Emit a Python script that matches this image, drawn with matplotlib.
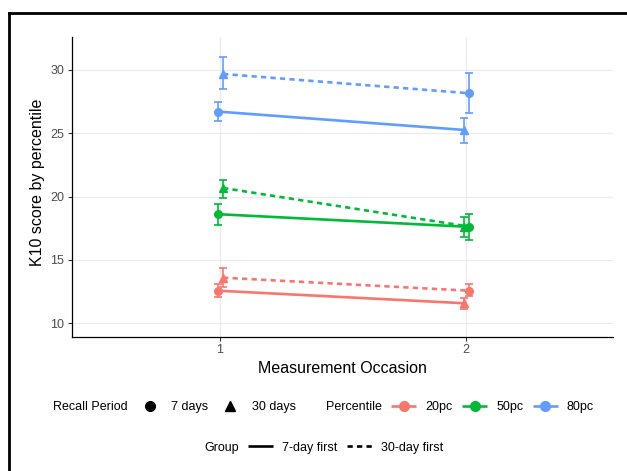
import matplotlib
matplotlib.use("Agg")
import matplotlib.pyplot as plt
from matplotlib.lines import Line2D
import numpy as np

plt.rcParams['font.family'] = ['Liberation Sans', 'DejaVu Sans']

# ---------------- data ----------------
occasions = [1, 2]
percentiles = ["20pc", "50pc", "80pc"]
colors = ["#F8766D", "#00BA38", "#619CFF"]
groups = ["7-day first", "30-day first"]
recall_labels = ["7 days", "30 days"]

# mean values per percentile, [occasion1, occasion2]
solid_mean = {"20pc": [12.57, 11.58], "50pc": [18.61, 17.63], "80pc": [26.71, 25.26]}
solid_lo   = {"20pc": [12.05, 11.13], "50pc": [17.76, 16.79], "80pc": [25.97, 24.26]}
solid_hi   = {"20pc": [13.08, 11.97], "50pc": [19.42, 18.42], "80pc": [27.47, 26.19]}
dashed_mean = {"20pc": [13.60, 12.57], "50pc": [20.68, 17.63], "80pc": [29.68, 28.16]}
dashed_lo   = {"20pc": [12.86, 12.15], "50pc": [19.89, 16.58], "80pc": [28.48, 26.58]}
dashed_hi   = {"20pc": [14.36, 13.08], "50pc": [21.31, 18.61], "80pc": [31.00, 29.79]}

# recall period markers: 7-day first -> circle then triangle; 30-day first -> triangle then circle
solid_markers = ["o", "^"]
dashed_markers = ["^", "o"]

yticks = [10, 15, 20, 25, 30]

# ---------------- figure ----------------
W, H = 627, 471
fig = plt.figure(figsize=(W / 100, H / 100), dpi=100)
ax = fig.add_axes([72 / W, 1 - 336.7 / H, (613.3 - 72) / W, (336.7 - 37) / H])

ax.set_xlim(0.4, 2.6)
ax.set_ylim(8.94, 32.6)

LW = 1.9
dash = (2.0, 1.6)
off_solid = -0.005
off_dashed = 0.014

for p, c in zip(percentiles, colors):
    for mean, lo, hi, mk, off, ls in [
        (solid_mean, solid_lo, solid_hi, solid_markers, off_solid, "-"),
        (dashed_mean, dashed_lo, dashed_hi, dashed_markers, off_dashed, "--"),
    ]:
        xs = np.array(occasions, dtype=float) + off
        ys = np.array(mean[p])
        line, = ax.plot(xs, ys, color=c, lw=LW, ls=ls, solid_capstyle="butt", zorder=3)
        if ls == "--":
            line.set_dashes(dash)
        yerr = np.vstack([ys - np.array(lo[p]), np.array(hi[p]) - ys])
        ax.errorbar(xs, ys, yerr=yerr, fmt="none", ecolor=c, elinewidth=1.2,
                    capsize=2.9, capthick=1.2, zorder=3)
        for x, y, m in zip(xs, ys, mk):
            ax.plot([x], [y], marker=m, color=c, ms=5.5 if m == "o" else 6,
                    ls="none", zorder=4)

ax.set_xticks(occasions)
ax.set_xticklabels([str(o) for o in occasions])
ax.set_yticks(yticks)
ax.grid(True, color="#EBEBEB", lw=0.9)
ax.set_axisbelow(True)
for s in ["top", "right"]:
    ax.spines[s].set_visible(False)
for s in ["left", "bottom"]:
    ax.spines[s].set_color("black")
    ax.spines[s].set_linewidth(0.9)
ax.tick_params(axis="both", length=3, width=0.8, color="#333333",
               labelcolor="#4D4D4D", labelsize=9, pad=2.5)
ax.set_xlabel("Measurement Occasion", fontsize=11.5, labelpad=3)
ax.set_ylabel("K10 score by percentile", fontsize=11.5, va="center")
ax.yaxis.set_label_coords((38 - 72) / (613.3 - 72), 0.515)

# ---------------- border ----------------
fig.add_artist(Line2D([8.8 / W, 1.0], [1 - 12.5 / H, 1 - 12.5 / H],
                      transform=fig.transFigure, color="black", lw=2))
fig.add_artist(Line2D([8.8 / W, 8.8 / W], [1 - 12.5 / H, 0.0],
                      transform=fig.transFigure, color="black", lw=2))

# ---------------- legend (manual) ----------------
renderer = fig.canvas.get_renderer()
FS = 9
def fx(x):
    return x / W
def fy(y):
    return 1 - y / H

def text_width(s):
    t = fig.text(0, 0, s, fontsize=FS)
    w = t.get_window_extent(renderer).width
    t.remove()
    return w

def layout(row):
    pieces = []
    x = 0.0
    for gi, (title, items) in enumerate(row):
        if gi > 0:
            x += 30
        tw = text_width(title)
        pieces.append(("text", x, title))
        x += tw
        for kind, kargs, lab in items:
            x += 22
            pieces.append((kind, x, kargs))
            x += 21.5
            pieces.append(("text", x, lab))
            x += text_width(lab)
    return pieces, x

def draw_row(row, yc, center=323.5):
    pieces, total = layout(row)
    x0 = center - total / 2
    for kind, x, arg in pieces:
        X = x0 + x
        if kind == "text":
            fig.text(fx(X), fy(yc), arg, fontsize=FS, va="center_baseline", ha="left", color="black")
        elif kind == "marker":
            fig.add_artist(Line2D([fx(X)], [fy(yc)], transform=fig.transFigure,
                                  marker=arg, color="black", ms=7, ls="none"))
        elif kind == "colorline":
            fig.add_artist(Line2D([fx(X - 12.5), fx(X + 12.5)], [fy(yc), fy(yc)],
                                  transform=fig.transFigure, color=arg, lw=LW,
                                  solid_capstyle="butt"))
            fig.add_artist(Line2D([fx(X)], [fy(yc)], transform=fig.transFigure,
                                  marker="o", color=arg, ms=7, ls="none"))
        elif kind == "styleline":
            ln = Line2D([fx(X - 12.5), fx(X + 12.5)], [fy(yc), fy(yc)],
                        transform=fig.transFigure, color="black", lw=LW,
                        ls=arg, solid_capstyle="butt")
            if arg == "--":
                ln.set_dashes(dash)
            fig.add_artist(ln)

row1 = [
    ("Recall Period", [("marker", m, lab) for m, lab in zip(["o", "^"], recall_labels)]),
    ("Percentile", [("colorline", c, p) for c, p in zip(colors, percentiles)]),
]
row2 = [
    ("Group", [("styleline", s, g) for s, g in zip(["-", "--"], groups)]),
]
draw_row(row1, 405.5)
draw_row(row2, 446)

fig.savefig("out.png", dpi=100)
